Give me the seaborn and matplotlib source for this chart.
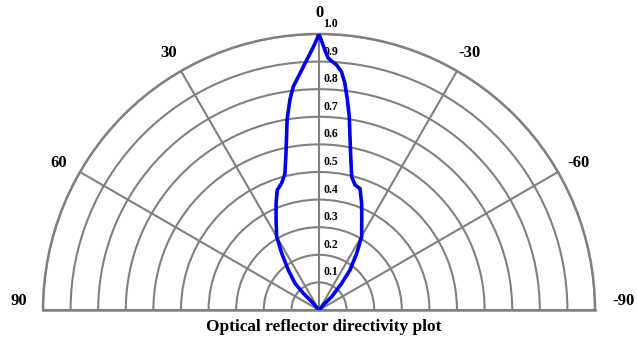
import numpy as np
import pandas as pd
import matplotlib
matplotlib.use("Agg")
import matplotlib.pyplot as plt
import matplotlib.transforms as mtransforms
import seaborn as sns

# Directivity pattern: angle (degrees, positive to the left) and relative intensity
angle_deg = [0.0, 41.3, 43.2, 42.0, 37.5, 33.3, 30.0, 25.5, 21.9, 19.2, 16.4, 14.0,
             11.9, 9.5, 7.9, 6.6, 4.6, 2.8, 1.2, 0.0,
             -1.3, -2.1, -4.1, -5.4, -6.5, -7.7, -8.9, -11.4, -13.8, -16.1, -18.6,
             -21.8, -25.4, -30.2, -33.6, -37.8, -40.4, -43.7, -40.7, 0.0]
intensity = [0.0, 0.040, 0.083, 0.130, 0.183, 0.246, 0.307, 0.361, 0.417, 0.460, 0.479, 0.510,
             0.580, 0.700, 0.768, 0.814, 0.860, 0.907, 0.954, 1.0,
             0.942, 0.913, 0.890, 0.867, 0.827, 0.768, 0.709, 0.579, 0.497, 0.471, 0.465,
             0.416, 0.361, 0.307, 0.247, 0.183, 0.127, 0.067, 0.024, 0.0]

radial_ticks = [0.1, 0.2, 0.3, 0.4, 0.5, 0.6, 0.7, 0.8, 0.9, 1.0]
radial_labels = ["0.1", "0.2", "0.3", "0.4", "0.5", "0.6", "0.7", "0.8", "0.9", "1.0"]
spoke_angles = [-90, -60, -30, 0, 30, 60, 90]
spoke_labels = ["-90", "-60", "-30", "0", "30", "60", "90"]
title = "Optical reflector directivity plot"

sns.set_theme(style="white")
plt.rcParams["font.family"] = ["Liberation Serif", "DejaVu Serif"]
plt.rcParams["font.weight"] = "bold"

W, H = 637, 337
fig = plt.figure(figsize=(W / 100, H / 100), dpi=100)
fig.patch.set_facecolor("white")

# half-disc of radius R centred at (cx, cy) pixels from the bottom-left;
# the wedge is laid out inside a square box, so the box is 2R on each side
R = 276
cx, cy = 319, H - 310
box_bottom = cy + R / 2 - R
ax = fig.add_axes([(cx - R) / W, box_bottom / H, 2 * R / W, 2 * R / H], projection="polar")
ax.set_facecolor("white")
ax.set_theta_zero_location("N")
ax.set_theta_direction(1)
ax.set_thetamin(-90)
ax.set_thetamax(90)

df = pd.DataFrame({"theta": np.deg2rad(angle_deg), "r": intensity})
sns.lineplot(data=df, x="theta", y="r", sort=False, estimator=None, ax=ax,
             color="#0000e6", linewidth=2.6, zorder=5)
for ln in ax.lines:
    ln.set_solid_joinstyle("round")
    ln.set_solid_capstyle("round")

ax.set_xlabel("")
ax.set_ylabel("")
ax.set_ylim(0, 1)

grid_color = "#808080"
ax.set_thetagrids(spoke_angles, [""] * len(spoke_angles))
ax.set_rgrids(radial_ticks, labels=[""] * len(radial_ticks))
ax.grid(True, color=grid_color, linewidth=1.5)
for sp in ax.spines.values():
    sp.set_color(grid_color)
    sp.set_linewidth(1.8)
ax.tick_params(axis="both", length=0)

# angle labels just outside the rim; the horizontal ones sit a little above the base line
label_r = 1.087
for a, lab in zip(spoke_angles, spoke_labels):
    dx_px = 4 if a == -90 else 0
    dy_px = 9 if abs(a) == 90 else -3
    shift = mtransforms.ScaledTranslation(dx_px / 100, dy_px / 100, fig.dpi_scale_trans)
    ax.text(np.deg2rad(a), label_r, lab, transform=ax.transData + shift,
            ha="center", va="center", fontsize=12, fontweight="bold",
            color="black", clip_on=False)

# radial value labels just to the right of the 0° spoke
offset = mtransforms.ScaledTranslation(0.04, 0.10, fig.dpi_scale_trans)
for t, lab in zip(radial_ticks, radial_labels):
    ax.text(0, t, lab, transform=ax.transData + offset, ha="left", va="center",
            fontsize=8.5, fontweight="bold", color="black", clip_on=False)

fig.text(324 / W, 10 / H, title, ha="center", va="center", fontsize=12.4,
         fontweight="bold", color="black")

fig.savefig("out.png", dpi=100, facecolor="white")
